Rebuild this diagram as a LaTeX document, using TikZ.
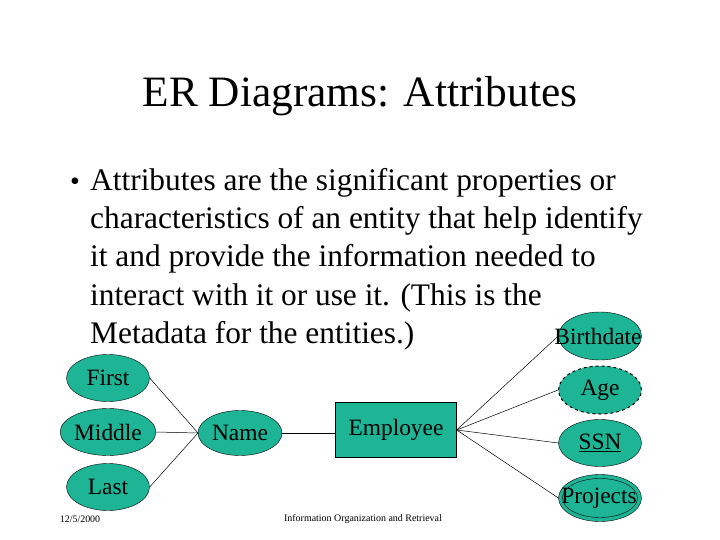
\documentclass[tikz,border=0pt]{standalone}
\usepackage{fontspec}
\setmainfont{Liberation Serif}
\usetikzlibrary{shapes.geometric}
\definecolor{teal1}{RGB}{30,180,150}
\begin{document}
\begin{tikzpicture}[x=1bp,y=-1bp,
  attr/.style={ellipse,draw,fill=teal1,minimum width=83bp,minimum height=47bp,inner sep=0pt,font=\fontsize{23.5}{23.5}\selectfont},
  body/.style={anchor=base west,inner sep=0pt,font=\fontsize{31.5}{31.5}\selectfont},
  conn/.style={draw,line width=0.5pt}]
\useasboundingbox (0,0) rectangle (720,540);
\node[font=\fontsize{43.5}{43.5}\selectfont] (title) at (360,96) {ER Diagrams: Attributes};
\node[anchor=base west,inner sep=0pt,font=\fontsize{28}{28}\selectfont] (bul) at (70,191) {•};
\node[body] (l1) at (90,191) {Attributes are the significant properties or};
\node[body] (l2) at (90,229) {characteristics of an entity that help identify};
\node[body] (l3) at (90,267) {it and provide the information needed to};
\node[body] (l4) at (90,305) {interact with it or use it. (This is the};
\node[body] (l5) at (90,343) {Metadata for the entities.)};
\node[attr] (first) at (108,378) {First};
\node[attr] (middle) at (108,432) {Middle};
\node[attr] (last) at (108,487) {Last};
\node[attr,minimum width=84bp,minimum height=45bp] (name) at (240,433) {Name};
\node[draw,fill=teal1,minimum width=121bp,minimum height=55bp,inner sep=0pt,font=\fontsize{23.5}{23.5}\selectfont] (emp) at (396,430) {\raisebox{6bp}{Employee}};
\node[attr,minimum height=48bp] (bd) at (600,336) {};
\node[font=\fontsize{23.5}{23.5}\selectfont] (bdt) at (598,336) {Birthdate};
\node[attr,dashed,line width=1pt,minimum height=48bp] (age) at (600,390) {Age};
\node[attr] (ssn) at (600,443) {\underline{SSN}};
\node[attr] (proj) at (600,498) {};
\node[ellipse,draw,minimum width=75bp,minimum height=39bp] (proji) at (600,498) {};
\node[font=\fontsize{23.5}{23.5}\selectfont] (projt) at (599,498) {Projects};
\coordinate (hub) at (198,433);
\draw[conn] (first.east) -- (hub);
\draw[conn] (middle.east) -- (name.west);
\draw[conn] (last.east) -- (hub);
\draw[conn] (name.east) -- (name.east -| emp.west);
\draw[conn] (emp.east) -- (bd.west);
\draw[conn] (emp.east) -- (age.west);
\draw[conn] (emp.east) -- (ssn.west);
\draw[conn] (emp.east) -- (proj.west);
\node[font=\fontsize{10}{10}\selectfont] (date) at (80,519) {12/5/2000};
\node[font=\fontsize{10}{10}\selectfont] (foot) at (363,519) {Information Organization and Retrieval};
\end{tikzpicture}
\end{document}
